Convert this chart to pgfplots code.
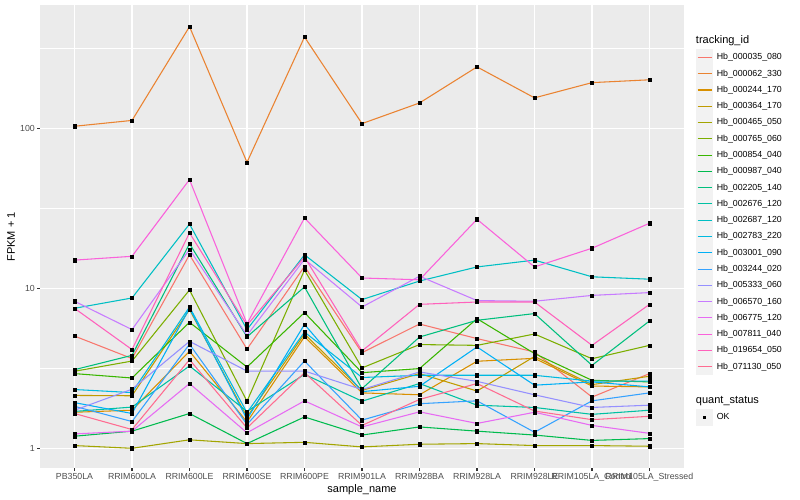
\documentclass[border=0pt]{standalone}
\usepackage{fontspec}
\setmainfont{Liberation Sans}
\usepackage{pgfplots}
\pgfplotsset{compat=1.18}
\usepackage{pgfplotstable}

\definecolor{panelbg}{HTML}{EBEBEB}
\definecolor{keybg}{HTML}{F2F2F2}
\definecolor{grey20}{HTML}{333333}
\definecolor{grey30}{HTML}{4D4D4D}
\definecolor{c01}{HTML}{F8766D}
\definecolor{c02}{HTML}{EA8331}
\definecolor{c03}{HTML}{D89000}
\definecolor{c04}{HTML}{C09B00}
\definecolor{c05}{HTML}{A3A500}
\definecolor{c06}{HTML}{7CAE00}
\definecolor{c07}{HTML}{39B600}
\definecolor{c08}{HTML}{00BB4E}
\definecolor{c09}{HTML}{00BF7D}
\definecolor{c10}{HTML}{00C1A3}
\definecolor{c11}{HTML}{00BFC4}
\definecolor{c12}{HTML}{00BAE0}
\definecolor{c13}{HTML}{00B0F6}
\definecolor{c14}{HTML}{35A2FF}
\definecolor{c15}{HTML}{9590FF}
\definecolor{c16}{HTML}{C77CFF}
\definecolor{c17}{HTML}{E76BF3}
\definecolor{c18}{HTML}{FA62DB}
\definecolor{c19}{HTML}{FF62BC}
\definecolor{c20}{HTML}{FF6C91}

% FPKM + 1 per sample (rows) and tracking id (columns)
\pgfplotstableread{
idx H035 H062 H244 H364 H465 H765 H854 H987 H2205 H2676 H2687 H2783 H3001 H3244 H5333 H6570 H6775 H7811 H19654 H71130
0  5.03 103  1.68 2.14 1.04 3.03 2.93 1.19 3.10 1.70 7.50 2.33 1.93 1.83 1.73 8.30 1.23 15.0  7.50 1.65
1  3.64 112  1.73 2.13 1.00 3.51 2.75 1.28 3.81 1.81 8.70 2.23 1.65 1.47 2.34 5.52 1.28 15.85 4.14 1.31
2  16.2 432  4.04 7.36 1.13 9.76 6.13 1.65 19.0 3.27 25.2 7.64 7.50 4.47 4.66 17.5 2.54 47.8  22.2 3.58
3  4.17 61.3 1.46 1.57 1.07 1.97 3.22 1.07 4.97 1.70 5.52 1.67 1.52 1.41 3.04 5.08 1.25 6.00  5.88 1.34
4  13.7 372  4.98 5.18 1.09 13.0 7.05 1.57 10.2 2.90 16.2 5.33 5.95 3.51 3.04 15.2 1.98 27.5  15.7 2.97
5  3.96 107  2.22 2.30 1.02 3.18 2.97 1.21 2.36 1.97 8.50 2.77 2.26 1.50 2.33 7.64 1.36 11.6  4.06 1.39
6  5.98 144  2.16 2.93 1.06 4.45 3.15 1.36 4.96 2.54 11.1 2.86 2.44 1.90 3.00 11.9 1.69 11.3  7.94 2.02
7  4.85 242  3.50 2.28 1.07 4.40 6.46 1.28 6.31 1.86 13.6 2.86 4.30 1.98 2.62 8.38 1.43 27.0  8.21 2.54
8  4.00 155  3.65 3.75 1.04 5.18 3.91 1.21 6.95 1.80 15.0 2.86 2.48 1.26 2.16 8.30 1.68 13.6  8.21 1.71
9  2.09 193  2.45 2.50 1.04 3.63 2.66 1.12 3.30 1.63 11.8 2.63 2.60 1.98 1.80 9.03 1.39 17.8  4.40 1.51
10 2.93 201  2.42 2.82 1.03 4.40 2.60 1.15 6.25 1.73 11.4 2.63 2.42 2.22 1.86 9.40 1.24 25.5  7.94 1.585
}\data

\begin{document}
\begin{tikzpicture}
\useasboundingbox (0,0) rectangle (800pt,500pt);
\begin{axis}[
  at={(40pt,31.7pt)}, anchor=south west,
  scale only axis,
  width=644pt, height=462.8pt,
  xmin=-0.6, xmax=10.6,
  ymode=log, ymin=0.75, ymax=585.6,
  xtick={0,1,...,10},
  xticklabels={PB350LA,RRIM600LA,RRIM600LE,RRIM600SE,RRIM600PE,RRIM901LA,RRIM928BA,RRIM928LA,RRIM928LE,RRIM105LA\_Control,RRIM105LA\_Stressed},
  ytick={1,10,100}, yticklabels={1,10,100},
  minor ytick={3.1623,31.623,316.23},
  xmajorgrids, ymajorgrids, yminorgrids,
  grid style={white, line width=1.07pt},
  minor grid style={white, line width=0.53pt},
  axis background/.style={fill=panelbg},
  axis line style={draw=none},
  tick pos=left,
  tick align=outside,
  major tick length=2.75pt,
  minor tick length=0pt,
  major tick style={color=grey20, line width=1.07pt},
  minor tick style={draw=none},
  ticklabel style={font=\fontsize{8.8}{10}\selectfont, text=grey30, inner sep=0pt},
  xticklabel style={anchor=north, yshift=-2.2pt},
  yticklabel style={anchor=east, xshift=-2.2pt},
  xlabel={sample\_name}, ylabel={FPKM + 1},
  label style={font=\fontsize{11}{13}\selectfont},
  xlabel style={at={(axis description cs:0.5,-0.0469)}, anchor=center},
  ylabel style={at={(axis description cs:-0.045,0.5)}, anchor=center},
  legend style={at={(1.0186,0.9427)}, anchor=north west, draw=none, fill=none,
    inner sep=0pt, outer sep=0pt, row sep=0pt, column sep=3.5pt,
    nodes={inner sep=0pt, anchor=west},
    font=\fontsize{8.8}{10}\selectfont},
  legend cell align=left,
  legend image code/.code={
    \fill[keybg, draw=none] (0.5pt,-8.14pt) rectangle (16.78pt,8.14pt);
    \draw[#1, line width=1.07pt] (1.73pt,0pt) -- (15.55pt,0pt);
  },
]

\addlegendimage{legend image code/.code={
  \path[draw=none, fill=none] (0pt,-8.64pt) rectangle (17.28pt,8.64pt);
  \node[overlay, draw=none, fill=none, text=black, anchor=west, inner sep=0pt, font=\fontsize{11}{13}\selectfont] at (0pt,0pt) {tracking\_id};}}
\addlegendentry{}

\addplot[c01, line width=1.07pt] table[x=idx, y=H035]{\data};
\addlegendentry{Hb\_000035\_080}
\addplot[c02, line width=1.07pt] table[x=idx, y=H062]{\data};
\addlegendentry{Hb\_000062\_330}
\addplot[c03, line width=1.07pt] table[x=idx, y=H244]{\data};
\addlegendentry{Hb\_000244\_170}
\addplot[c04, line width=1.07pt] table[x=idx, y=H364]{\data};
\addlegendentry{Hb\_000364\_170}
\addplot[c05, line width=1.07pt] table[x=idx, y=H465]{\data};
\addlegendentry{Hb\_000465\_050}
\addplot[c06, line width=1.07pt] table[x=idx, y=H765]{\data};
\addlegendentry{Hb\_000765\_060}
\addplot[c07, line width=1.07pt] table[x=idx, y=H854]{\data};
\addlegendentry{Hb\_000854\_040}
\addplot[c08, line width=1.07pt] table[x=idx, y=H987]{\data};
\addlegendentry{Hb\_000987\_040}
\addplot[c09, line width=1.07pt] table[x=idx, y=H2205]{\data};
\addlegendentry{Hb\_002205\_140}
\addplot[c10, line width=1.07pt] table[x=idx, y=H2676]{\data};
\addlegendentry{Hb\_002676\_120}
\addplot[c11, line width=1.07pt] table[x=idx, y=H2687]{\data};
\addlegendentry{Hb\_002687\_120}
\addplot[c12, line width=1.07pt] table[x=idx, y=H2783]{\data};
\addlegendentry{Hb\_002783\_220}
\addplot[c13, line width=1.07pt] table[x=idx, y=H3001]{\data};
\addlegendentry{Hb\_003001\_090}
\addplot[c14, line width=1.07pt] table[x=idx, y=H3244]{\data};
\addlegendentry{Hb\_003244\_020}
\addplot[c15, line width=1.07pt] table[x=idx, y=H5333]{\data};
\addlegendentry{Hb\_005333\_060}
\addplot[c16, line width=1.07pt] table[x=idx, y=H6570]{\data};
\addlegendentry{Hb\_006570\_160}
\addplot[c17, line width=1.07pt] table[x=idx, y=H6775]{\data};
\addlegendentry{Hb\_006775\_120}
\addplot[c18, line width=1.07pt] table[x=idx, y=H7811]{\data};
\addlegendentry{Hb\_007811\_040}
\addplot[c19, line width=1.07pt] table[x=idx, y=H19654]{\data};
\addlegendentry{Hb\_019654\_050}
\addplot[c20, line width=1.07pt] table[x=idx, y=H71130]{\data};
\addlegendentry{Hb\_071130\_050}

% points on top of all lines (quant_status = OK)
\pgfplotsinvokeforeach{H035,H062,H244,H364,H465,H765,H854,H987,H2205,H2676,H2687,H2783,H3001,H3244,H5333,H6570,H6775,H7811,H19654,H71130}{
  \addplot[forget plot, only marks, mark=square*, mark size=1.6pt, black] table[x=idx, y=#1]{\data};
}

\addlegendimage{legend image code/.code={\path[draw=none, fill=none] (0pt,-8.64pt) rectangle (17.28pt,8.64pt);}}
\addlegendentry{}
\addlegendimage{legend image code/.code={
  \path[draw=none, fill=none] (0pt,-8.64pt) rectangle (17.28pt,8.64pt);
  \node[overlay, draw=none, fill=none, text=black, anchor=west, inner sep=0pt, font=\fontsize{11}{13}\selectfont] at (0pt,0pt) {quant\_status};}}
\addlegendentry{}
\addlegendimage{legend image code/.code={
  \fill[keybg, draw=none] (0.5pt,-8.14pt) rectangle (16.78pt,8.14pt);
  \fill[black, draw=none] (7.04pt,-1.6pt) rectangle (10.24pt,1.6pt);}}
\addlegendentry{OK}

\end{axis}
\end{tikzpicture}
\end{document}
